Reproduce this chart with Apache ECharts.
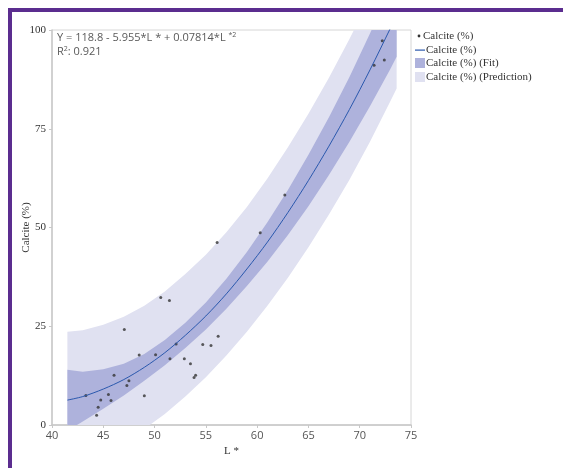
<!DOCTYPE html>
<html>
<head>
<meta charset="utf-8">
<script src="https://cdn.jsdelivr.net/npm/echarts@6/dist/echarts.min.js"></script>
<style>
html,body{margin:0;padding:0;background:#fff;}
#frame{position:absolute;left:8px;top:8px;width:600px;height:500px;border-top:4px solid #5b2d8f;border-left:4px solid #5b2d8f;pointer-events:none;}
#chart{position:absolute;left:0;top:0;width:563px;height:468px;}
</style>
</head>
<body>
<div id="chart"></div>
<div id="frame"></div>
<script>
// ---- data ----
const xTicks = [40, 45, 50, 55, 60, 65, 70, 75];
const yTicks = [0, 25, 50, 75, 100];

// observed points: L* and Calcite (%)
const obsL = [43.3, 44.35, 44.5, 44.75, 45.5, 45.75, 46.05, 47.05, 47.3, 47.5, 48.5, 49.0, 50.1, 50.6, 51.45, 51.5, 52.1, 52.9, 53.5, 53.85, 54.0, 54.7, 55.5, 56.2, 56.1, 60.3, 62.7, 71.4, 72.2, 72.4];
const obsCalcite = [7.5, 2.5, 4.5, 6.3, 7.7, 6.2, 12.6, 24.2, 10.0, 11.2, 17.7, 7.4, 17.8, 32.3, 31.5, 16.8, 20.5, 16.8, 15.5, 12.0, 12.6, 20.4, 20.1, 22.5, 46.2, 48.7, 58.2, 91.1, 97.3, 92.4];

// fitted curve and bands, sampled along L*
const bandL      = [41.5, 43, 45, 47, 49, 51, 53, 55, 57, 59, 61, 63, 65, 67, 69, 71, 73, 73.6];
const fitCurve   = [6.3, 7.2, 9.1, 11.5, 14.6, 18.3, 22.7, 27.6, 33.2, 39.5, 46.3, 53.8, 61.9, 70.6, 79.9, 89.9, 100.5, 103.8];
const fitLower   = [-1.5, 0.9, 4.1, 7.5, 11.2, 15.1, 19.5, 24.2, 29.4, 35.2, 41.3, 48.1, 55.4, 63.3, 71.7, 80.7, 90.2, 93.2];
const fitUpper   = [14.0, 13.5, 14.1, 15.5, 18.0, 21.5, 25.9, 31.0, 37.0, 43.8, 51.3, 59.5, 68.4, 77.9, 88.1, 99.1, 110.8, 114.4];
const predLower  = [-11.0, -9.6, -7.2, -4.4, -1.0, 2.8, 7.2, 12.1, 17.6, 23.6, 30.2, 37.3, 45.0, 53.3, 62.1, 71.7, 82.0, 85.2];
const predUpper  = [23.6, 24.0, 25.4, 27.4, 30.2, 33.8, 38.2, 43.1, 48.8, 55.2, 62.4, 70.3, 78.8, 87.9, 97.7, 108.1, 119.0, 122.4];

const equationText = 'Y = 118.8 - 5.955*L * + 0.07814*L ';
const r2Text = '0.921';

const COL_PRED = '#e0e1f1';
const COL_FIT = '#aeb2dc';
const COL_LINE = '#2a58ad';

const pairs = (xs, ys) => xs.map((x, i) => [x, ys[i]]);

// band drawn as one polygon through the axis scales, clipped to the grid
function bandSeries(name, lower, upper, color) {
  const data = bandL.map((x, i) => [x, lower[i], upper[i]]);
  return {
    name: name, type: 'custom', silent: true, clip: true, data: data,
    encode: { x: 0, y: [1, 2] },
    renderItem: function (params, api) {
      if (params.dataIndex !== 0) return null;
      const top = [], bot = [];
      for (let i = 0; i < data.length; i++) {
        top.push(api.coord([data[i][0], data[i][2]]));
        bot.push(api.coord([data[i][0], data[i][1]]));
      }
      const pts = top.concat(bot.reverse());
      const cs = params.coordSys;
      return {
        type: 'polygon',
        shape: { points: pts },
        style: { fill: color },
        clipPath: { type: 'rect', shape: { x: cs.x, y: cs.y, width: cs.width, height: cs.height } }
      };
    }
  };
}

const chart = echarts.init(document.getElementById('chart'), null, { renderer: 'canvas' });
chart.setOption({
  animation: false,
  grid: { left: 52, right: 152, top: 30, bottom: 43, show: true, borderColor: '#d6d6d6', borderWidth: 1, backgroundColor: 'transparent' },
  xAxis: {
    type: 'value', min: 40, max: 75, interval: 5,
    name: 'L *', nameLocation: 'middle', nameGap: 21, nameMoveOverlap: false,
    nameTextStyle: { fontFamily: 'Liberation Serif', fontSize: 11, color: '#333' },
    axisLine: { lineStyle: { color: '#c8c8c8', width: 1.5 } },
    axisTick: { show: true, length: 3, lineStyle: { color: '#c8c8c8' } },
    axisLabel: { fontFamily: 'Open Sans', fontSize: 11, color: '#555', margin: 5 },
    splitLine: { show: false }
  },
  yAxis: {
    type: 'value', min: 0, max: 100, interval: 25,
    name: 'Calcite (%)', nameLocation: 'middle', nameGap: 20, nameRotate: 90, nameMoveOverlap: false,
    nameTextStyle: { fontFamily: 'Liberation Serif', fontSize: 11, color: '#333' },
    axisLine: { show: true, lineStyle: { color: '#c8c8c8', width: 1.5 } },
    axisTick: { show: true, length: 3, lineStyle: { color: '#c8c8c8' } },
    axisLabel: { fontFamily: 'Liberation Serif', fontSize: 11, color: '#333', margin: 6 },
    splitLine: { show: false }
  },
  series: [
    bandSeries('Calcite (%) (Prediction)', predLower, predUpper, COL_PRED),
    bandSeries('Calcite (%) (Fit)', fitLower, fitUpper, COL_FIT),
    { name: 'Calcite (%) line', type: 'line', symbol: 'none', smooth: 0.3, silent: true, clip: true,
      data: pairs(bandL, fitCurve), lineStyle: { color: COL_LINE, width: 1 } },
    { name: 'Calcite (%)', type: 'scatter', symbol: 'circle', symbolSize: 3,
      itemStyle: { color: '#333' }, data: pairs(obsL, obsCalcite) }
  ],
  graphic: [
    { type: 'text', left: 57, top: 31, style: {
        text: '{a|' + equationText + '}{s|*2}',
        rich: { a: { fontFamily: 'Open Sans', fontSize: 11, fill: '#595959' },
                s: { fontFamily: 'Open Sans', fontSize: 7, fill: '#595959', padding: [0,0,6,0] } } } },
    { type: 'text', left: 57, top: 45, style: {
        text: '{a|R}{s|2}{a|: ' + r2Text + '}',
        rich: { a: { fontFamily: 'Open Sans', fontSize: 11, fill: '#595959' },
                s: { fontFamily: 'Open Sans', fontSize: 7, fill: '#595959', padding: [0,0,6,0] } } } },
    // legend
    { type: 'circle', shape: { cx: 419, cy: 36, r: 1.4 }, style: { fill: '#333' } },
    { type: 'text', x: 423, y: 36, style: { text: 'Calcite (%)', font: '11px "Liberation Serif"', fill: '#333', verticalAlign: 'middle' } },
    { type: 'rect', shape: { x: 415, y: 49.5, width: 10, height: 1.2 }, style: { fill: COL_LINE } },
    { type: 'text', x: 426, y: 50, style: { text: 'Calcite (%)', font: '11px "Liberation Serif"', fill: '#333', verticalAlign: 'middle' } },
    { type: 'rect', shape: { x: 415, y: 58, width: 10, height: 10 }, style: { fill: COL_FIT } },
    { type: 'text', x: 426, y: 63.5, style: { text: 'Calcite (%) (Fit)', font: '11px "Liberation Serif"', fill: '#333', verticalAlign: 'middle' } },
    { type: 'rect', shape: { x: 415, y: 72, width: 10, height: 10 }, style: { fill: COL_PRED } },
    { type: 'text', x: 426, y: 77.5, style: { text: 'Calcite (%) (Prediction)', font: '11px "Liberation Serif"', fill: '#333', verticalAlign: 'middle' } }
  ]
});
</script>
</body>
</html>
